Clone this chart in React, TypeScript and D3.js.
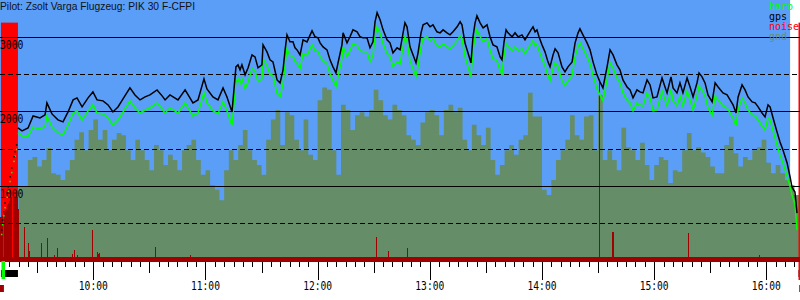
import React from "react";
import * as d3 from "d3";

// ---------- texts ----------
const titleText = "Pilot: Zsolt Varga Flugzeug: PIK 30 F-CFPI";
const legendNames = ["baro", "gps", "noise", "gnd"];
const legendColors = ["#00ff00", "#000000", "#ff0000", "#6b8f6b"];
const hourLabels = ["10:00", "11:00", "12:00", "13:00", "14:00", "15:00", "16:00"];
const hourTimes = [600, 660, 720, 780, 840, 900, 960];
const gridSolid = [1000, 2000, 3000];
const gridDashed = [500, 1500, 2500];
const altLabels = ["1000", "2000", "3000"];

// ---------- time frame (minutes since midnight) ----------
const timeDomain = [550.1, 978.0];
const skyEnd = 972.7;
const engineStart = [550.6, 977.2];
const engineEnd = [559.7, 978.0];
const takeoffMark = [550.9, 552.8];
const landingMark = [977.2, 978.0];
const logStartMark = [550.1, 552.2];
const logEndMark = [977.6, 978.0];
const engineNoiseLevel = 3190;
const noiseFloor = 48;
const noiseBase = -19;

// ---------- climb under engine (sparse fixes, drawn as dots) ----------
const climbTimes = [551.0, 551.5, 552.2, 552.8, 554.0, 554.5, 555.5, 556.4, 557.6, 558.1, 559.0];
const climbGps = [409, 544, 655, 772, 906, 990, 1124, 1241, 1393, 1460, 1550];
const climbBaro = [350, 480, 600, 710, 850, 930, 1060, 1180, 1330, 1400, 1490];

// ---------- gps / baro altitude (m) ----------
const gpsTimes = [
  559.7, 561.9, 565.1, 567.8, 571.5,
  574.2, 575.2, 577.9, 581.1, 583.8, 586.5, 589.2, 591.3, 594.0, 597.2,
  599.8, 602.0, 605.2, 607.9, 610.5, 613.2, 615.9, 619.6, 622.3, 625.0,
  627.7, 630.3, 634.1, 636.8, 638.4, 641.0, 645.3, 649.1, 651.7, 653.3,
  656.0, 659.2, 660.8, 664.0, 666.7, 669.4, 671.5, 674.2, 676.3, 677.4,
  678.5, 679.5, 681.2, 682.8, 684.9, 686.5, 688.1, 690.2, 690.8, 692.9,
  694.5, 696.1, 698.3, 699.9, 701.5, 702.6, 703.6, 705.2, 706.8, 707.9,
  709.0, 710.6, 712.2, 714.3, 717.0, 718.6, 720.2, 721.3, 722.9, 725.0,
  726.6, 728.2, 729.8, 730.9, 733.0, 733.6, 735.7, 737.3, 738.9, 741.1,
  742.7, 744.3, 746.4, 748.0, 749.6, 750.7, 751.8, 753.4, 755.0, 757.1,
  758.7, 760.3, 762.5, 764.1, 765.7, 766.7, 767.8, 769.4, 771.0, 772.6,
  773.7, 775.3, 776.4, 778.5, 780.1, 781.7, 783.8, 785.5, 787.1, 789.2,
  790.8, 792.4, 794.6, 796.2, 797.2, 798.8, 800.4, 802.0, 803.1, 804.2,
  805.2, 806.9, 808.5, 810.6, 812.2, 813.8, 815.9, 817.6, 818.6, 819.7,
  820.8, 821.8, 824.0, 825.6, 827.2, 829.3, 830.9, 832.5, 834.1, 835.2,
  836.3, 837.3, 838.4, 840.0, 841.6, 843.2, 844.3, 845.9, 847.0, 848.6,
  850.7, 852.3, 853.9, 856.1, 857.7, 859.3, 860.3, 861.9, 864.1, 865.7,
  867.3, 869.4, 871.0, 872.6, 874.8, 876.4, 878.0, 880.1, 881.7, 883.3,
  885.5, 887.1, 888.7, 890.8, 892.4, 894.0, 896.2, 897.8, 899.4, 901.5,
  904.2, 905.8, 906.9, 909.0, 910.1, 912.2, 913.8, 915.4, 917.6, 919.2,
  920.8, 922.9, 924.0, 925.6, 927.2, 928.8, 931.0, 932.6, 934.2, 936.8,
  939.0, 940.6, 942.2, 943.8, 944.9, 947.0, 948.6, 950.2, 952.4, 954.0,
  955.6, 957.7, 959.3, 960.9, 962.0, 963.6, 965.7, 967.3, 968.9, 971.1,
  972.7, 973.7, 975.3, 976.4,
];

const gpsAlt = [
  1778, 1738, 1778, 1939, 1912,
  1953, 2114, 1966, 1886, 1859, 1993, 2154, 2181, 2060, 2181,
  2261, 2154, 2141, 2087, 1993, 2060, 2167, 2315, 2221, 2154,
  2194, 2221, 2288, 2208, 2154, 2221, 2154, 2288, 2181, 2114,
  2154, 2436, 2302, 2194, 2154, 2315, 2194, 1993, 2597, 2624,
  2557, 2624, 2490, 2584, 2758, 2731, 2584, 2624, 2892, 2798,
  2691, 2664, 2422, 2382, 2557, 2825, 3026, 2932, 2932, 2852,
  2825, 2758, 2959, 2932, 3080, 3000, 2986, 2919, 2865, 2825,
  2691, 2597, 2516, 2651, 2892, 3053, 2919, 3000, 3093, 3067,
  3000, 2986, 2986, 2852, 2932, 3201, 3322, 3228, 3093, 2959,
  2919, 2785, 2852, 2825, 3053, 3187, 3134, 2865, 2758, 2651,
  2785, 3053, 3161, 3187, 3134, 3161, 3067, 3053, 3093, 3053,
  3026, 3067, 3134, 3201, 3161, 2919, 2785, 2651, 3000, 3187,
  3281, 3187, 3120, 3161, 3000, 2892, 2865, 2731, 2691, 2932,
  3093, 3053, 3000, 3053, 3000, 3026, 2959, 3026, 3093, 3134,
  3067, 3093, 3000, 2892, 2798, 2664, 2597, 2758, 2838, 2785,
  2597, 2530, 2597, 2664, 2919, 3053, 3107, 3026, 2919, 2825,
  2664, 2490, 2396, 2315, 2597, 2825, 2758, 2624, 2557, 2422,
  2328, 2288, 2181, 2288, 2261, 2248, 2422, 2355, 2181, 2194,
  2449, 2328, 2248, 2463, 2315, 2248, 2382, 2248, 2449, 2328,
  2194, 2382, 2516, 2463, 2382, 2221, 2127, 2382, 2328, 2248,
  2221, 2154, 2087, 1979, 2194, 2355, 2288, 2194, 2127, 2114,
  2060, 1979, 1926, 2087, 2060, 1912, 1725, 1590, 1483, 1309,
  1121, 986, 919, 637,
];

const baroAlt = [
  1711, 1671, 1668, 1789, 1762,
  1803, 1939, 1791, 1711, 1684, 1818, 1979, 2006, 1885, 2006,
  2086, 1979, 1966, 1912, 1818, 1885, 1992, 2140, 2046, 1979,
  2019, 2046, 2113, 2033, 1979, 2046, 1979, 2113, 2006, 1939,
  1979, 2251, 2117, 2009, 1969, 2130, 2009, 1808, 2412, 2439,
  2372, 2439, 2305, 2399, 2573, 2546, 2399, 2439, 2707, 2613,
  2506, 2479, 2237, 2197, 2372, 2640, 2841, 2747, 2747, 2667,
  2640, 2573, 2774, 2747, 2895, 2815, 2801, 2734, 2680, 2640,
  2506, 2412, 2331, 2466, 2707, 2868, 2734, 2815, 2908, 2882,
  2815, 2801, 2801, 2667, 2747, 3016, 3137, 3043, 2908, 2774,
  2734, 2600, 2667, 2640, 2868, 3002, 2949, 2680, 2573, 2466,
  2600, 2868, 2976, 3002, 2949, 2976, 2882, 2868, 2908, 2868,
  2841, 2882, 2949, 3016, 2976, 2734, 2600, 2466, 2815, 3002,
  3096, 3002, 2935, 2976, 2815, 2707, 2680, 2546, 2506, 2747,
  2908, 2868, 2815, 2868, 2815, 2841, 2774, 2841, 2908, 2949,
  2882, 2908, 2815, 2707, 2613, 2479, 2412, 2573, 2653, 2600,
  2412, 2345, 2412, 2479, 2734, 2868, 2922, 2841, 2734, 2640,
  2479, 2305, 2221, 2140, 2422, 2650, 2583, 2449, 2382, 2247,
  2153, 2113, 2006, 2113, 2086, 2073, 2247, 2180, 2006, 2019,
  2274, 2153, 2073, 2288, 2140, 2073, 2207, 2073, 2274, 2153,
  2019, 2207, 2341, 2288, 2207, 2046, 1952, 2207, 2153, 2073,
  2046, 1979, 1912, 1804, 2019, 2180, 2113, 2019, 1952, 1939,
  1885, 1804, 1751, 1912, 1885, 1737, 1550, 1415, 1308, 1134,
  990, 880, 760, 409,
];

// ---------- ground elevation (m), 2.5-minute samples ----------
const gndTimes = [
  560, 562.5, 565, 567.5, 570, 572.5, 575, 577.5, 580, 582.5,
  585, 587.5, 590, 592.5, 595, 597.5, 600, 602.5, 605, 607.5,
  610, 612.5, 615, 617.5, 620, 622.5, 625, 627.5, 630, 632.5,
  635, 637.5, 640, 642.5, 645, 647.5, 650, 652.5, 655, 657.5,
  660, 662.5, 665, 667.5, 670, 672.5, 675, 677.5, 680, 682.5,
  685, 687.5, 690, 692.5, 695, 697.5, 700, 702.5, 705, 707.5,
  710, 712.5, 715, 717.5, 720, 722.5, 725, 727.5, 730, 732.5,
  735, 737.5, 740, 742.5, 745, 747.5, 750, 752.5, 755, 757.5,
  760, 762.5, 765, 767.5, 770, 772.5, 775, 777.5, 780, 782.5,
  785, 787.5, 790, 792.5, 795, 797.5, 800, 802.5, 805, 807.5,
  810, 812.5, 815, 817.5, 820, 822.5, 825, 827.5, 830, 832.5,
  835, 837.5, 840, 842.5, 845, 847.5, 850, 852.5, 855, 857.5,
  860, 862.5, 865, 867.5, 870, 872.5, 875, 877.5, 880, 882.5,
  885, 887.5, 890, 892.5, 895, 897.5, 900, 902.5, 905, 907.5,
  910, 912.5, 915, 917.5, 920, 922.5, 925, 927.5, 930, 932.5,
  935, 937.5, 940, 942.5, 945, 947.5, 950, 952.5, 955, 957.5,
  960, 962.5, 965, 967.5, 970, 972.5, 975,
];

const gndAlt = [
  990, 990, 1350, 1390, 1260, 1350, 1510, 1170, 1150, 1080,
  1210, 1350, 1620, 1720, 1480, 1750, 1890, 1620, 1750, 1480,
  1620, 1710, 1680, 1480, 1350, 1620, 1480, 1350, 1210, 1550,
  1480, 1280, 1420, 1350, 1210, 1480, 1550, 1620, 1350, 1150,
  1210, 1010, 950, 810, 1210, 1480, 1350, 1550, 1750, 1480,
  1350, 1280, 1150, 1620, 1890, 2020, 1550, 1990, 1950, 1620,
  1480, 1890, 1420, 1350, 2150, 2320, 2290, 1480, 1150, 2090,
  2020, 1750, 1950, 1990, 1930, 2020, 2290, 2150, 1950, 1890,
  2090, 2020, 1950, 1680, 1620, 1550, 1850, 1990, 2020, 1950,
  1680, 2020, 2090, 1990, 2050, 1620, 1480, 1820, 1680, 1550,
  1780, 1350, 1150, 1280, 1480, 1550, 1420, 1620, 1680, 2250,
  1930, 1930, 950, 880, 1080, 1350, 1480, 1620, 1950, 1680,
  1620, 1930, 1950, 1480, 2220, 1350, 1480, 1350, 1210, 1780,
  1520, 1480, 1350, 1580, 1280, 1080, 1280, 1390, 1350, 1040,
  1210, 1190, 1480, 1710, 1480, 1520, 1450, 1390, 1260, 1170,
  1170, 1550, 1660, 1440, 1260, 1390, 1350, 1480, 1520, 1620,
  1310, 1170, 1280, 1170, 1080, 1010, 880,
];

// ---------- noise samples (level in chart units) ----------
const noiseTimes = [
  550.2, 550.8, 551.4, 552.0, 552.6, 553.2, 553.8, 554.4, 555.0, 555.6,
  556.2, 556.8, 557.4, 558.0, 558.6, 559.2, 559.8,
  562.9, 565.1, 565.6, 572.0, 575.2, 579.0, 580.6, 588.6, 589.7, 591.3,
  599.3, 602.0, 602.5, 603.1, 633.0, 651.7, 751.2, 757.6, 767.8,
  870.5, 877.5, 878.0, 918.1, 956.1,
];
const noiseLevel = [
  580, 580, 600, 640, 680, 690, 740, 770, 800, 850,
  850, 850, 850, 850, 850, 850, 690,
  450, 235, 128, 235, 302, 74, 168, 87, 141, 74,
  409, 114, 87, 101, 181, 74, 315, 128, 168,
  2396, 382, 382, 369, 74,
];
const noiseSampleLen = 0.55;

const gndStep = 2.5;

export default function App() {
  const x = d3.scaleLinear().domain(timeDomain).range([0, 800]);
  const y = d3.scaleLinear().domain([0, 3000]).range([260.6, 36.8]);
  const crisp = (v: number) => Math.round(v) + 0.5;

  const gpsPath = d3
    .line<number>()
    .x((_, i) => x(gpsTimes[i]))
    .y((d) => y(d))(gpsAlt) as string;
  const baroPath = d3
    .line<number>()
    .x((_, i) => x(gpsTimes[i]))
    .y((d) => y(d))(baroAlt) as string;

  const gndArea = d3
    .area<number>()
    .curve(d3.curveStepAfter)
    .x((_, i) => x(i < gndTimes.length ? gndTimes[i] : gndTimes[gndTimes.length - 1] + gndStep))
    .y0(y(0))
    .y1((d) => y(d))([...gndAlt, gndAlt[gndAlt.length - 1]]) as string;

  const ticks = d3.range(555, timeDomain[1], 5);
  const mono = "'DejaVu Sans Mono', monospace";

  return (
    <svg
      width={800}
      height={300}
      style={{ position: "absolute", left: 0, top: 0, background: "#ffffff" }}
    >
      {/* sky */}
      <rect x={x(timeDomain[0])} y={0} width={x(skyEnd) - x(timeDomain[0])} height={y(noiseBase)} fill="#5a9ef8" />
      {/* ground */}
      <path d={gndArea} fill="#658d67" />
      {/* engine running: full noise */}
      {engineStart.map((s, i) => (
        <rect
          key={"eng" + i}
          x={x(s)}
          y={y(engineNoiseLevel)}
          width={x(engineEnd[i]) - x(s)}
          height={y(noiseBase) - y(engineNoiseLevel)}
          fill="#ff0000"
        />
      ))}
      {/* noise level bars */}
      {noiseTimes.map((t, i) => (
        <rect
          key={"n" + i}
          x={x(t)}
          y={y(noiseLevel[i])}
          width={x(t + noiseSampleLen) - x(t)}
          height={y(noiseBase) - y(noiseLevel[i])}
          fill="#a00000"
          shapeRendering="crispEdges"
        />
      ))}
      <rect
        x={0}
        y={y(noiseFloor)}
        width={800}
        height={y(noiseBase) - y(noiseFloor)}
        fill="#a00000"
      />
      {/* grid */}
      {gridSolid.map((v) => (
        <line key={"gs" + v} x1={0} x2={800} y1={crisp(y(v))} y2={crisp(y(v))} stroke="#000" strokeWidth={1} />
      ))}
      {gridDashed.map((v) => (
        <line
          key={"gd" + v}
          x1={0}
          x2={800}
          y1={crisp(y(v))}
          y2={crisp(y(v))}
          stroke="#000"
          strokeWidth={1}
          strokeDasharray="5,3"
        />
      ))}
      {/* altitude labels */}
      {altLabels.map((l, i) => (
        <text
          key={"al" + l}
          x={0}
          y={y(gridSolid[i]) + 11.7}
          fontFamily={mono}
          fontSize={12.5}
          textLength={23.5}
          lengthAdjust="spacingAndGlyphs"
          fill="#000"
        >
          {l}
        </text>
      ))}
      {/* climb fixes */}
      {climbTimes.map((t, i) => (
        <rect key={"cb" + i} x={x(t) - 0.75} y={y(climbBaro[i]) - 0.75} width={1.5} height={1.5} fill="#00ff00" />
      ))}
      {climbTimes.map((t, i) => (
        <rect key={"cg" + i} x={x(t) - 0.75} y={y(climbGps[i]) - 0.75} width={1.5} height={1.5} fill="#000000" />
      ))}
      {/* series */}
      <path d={baroPath} fill="none" stroke="#00ff00" strokeWidth={1.5} />
      <path d={gpsPath} fill="none" stroke="#000000" strokeWidth={1.5} />
      {/* title */}
      <text x={0} y={10} fontFamily="'Liberation Sans', Arial, sans-serif" fontSize={10.5} fill="#111" textLength={195} lengthAdjust="spacingAndGlyphs">
        {titleText}
      </text>
      {/* legend */}
      {legendNames.map((n, i) => (
        <text key={"lg" + n} x={769} y={10 + i * 10} fontFamily={mono} fontSize={10} fill={legendColors[i]}>
          {n}
        </text>
      ))}
      {/* time axis */}
      {ticks.map((t) => {
        const len = t % 60 === 0 ? 18 : t % 30 === 0 ? 11 : 5;
        return (
          <line
            key={"t" + t}
            x1={crisp(x(t))}
            x2={crisp(x(t))}
            y1={y(noiseBase)}
            y2={y(noiseBase) + len}
            stroke="#000"
            strokeWidth={1}
          />
        );
      })}
      {hourLabels.map((l, i) => (
        <text
          key={"h" + l}
          x={x(hourTimes[i])}
          y={290}
          textAnchor="middle"
          fontFamily={mono}
          fontSize={11.5}
          textLength={29}
          lengthAdjust="spacingAndGlyphs"
          fill="#000"
        >
          {l}
        </text>
      ))}
      {/* event markers below axis */}
      {engineStart.map((s, i) => (
        <rect key={"eb" + i} x={x(s)} y={270} width={x(engineEnd[i]) - x(s)} height={7} fill="#000" />
      ))}
      <rect x={x(takeoffMark[0])} y={261} width={x(takeoffMark[1]) - x(takeoffMark[0])} height={18} fill="#00ff00" />
      <rect x={x(landingMark[0])} y={262} width={x(landingMark[1]) - x(landingMark[0])} height={18} fill="#ff0000" />
      <rect x={x(logStartMark[0])} y={285} width={x(logStartMark[1]) - x(logStartMark[0])} height={7} fill="#a00000" />
      <rect x={x(logEndMark[0])} y={285} width={x(logEndMark[1]) - x(logEndMark[0])} height={7} fill="#a00000" />
    </svg>
  );
}
